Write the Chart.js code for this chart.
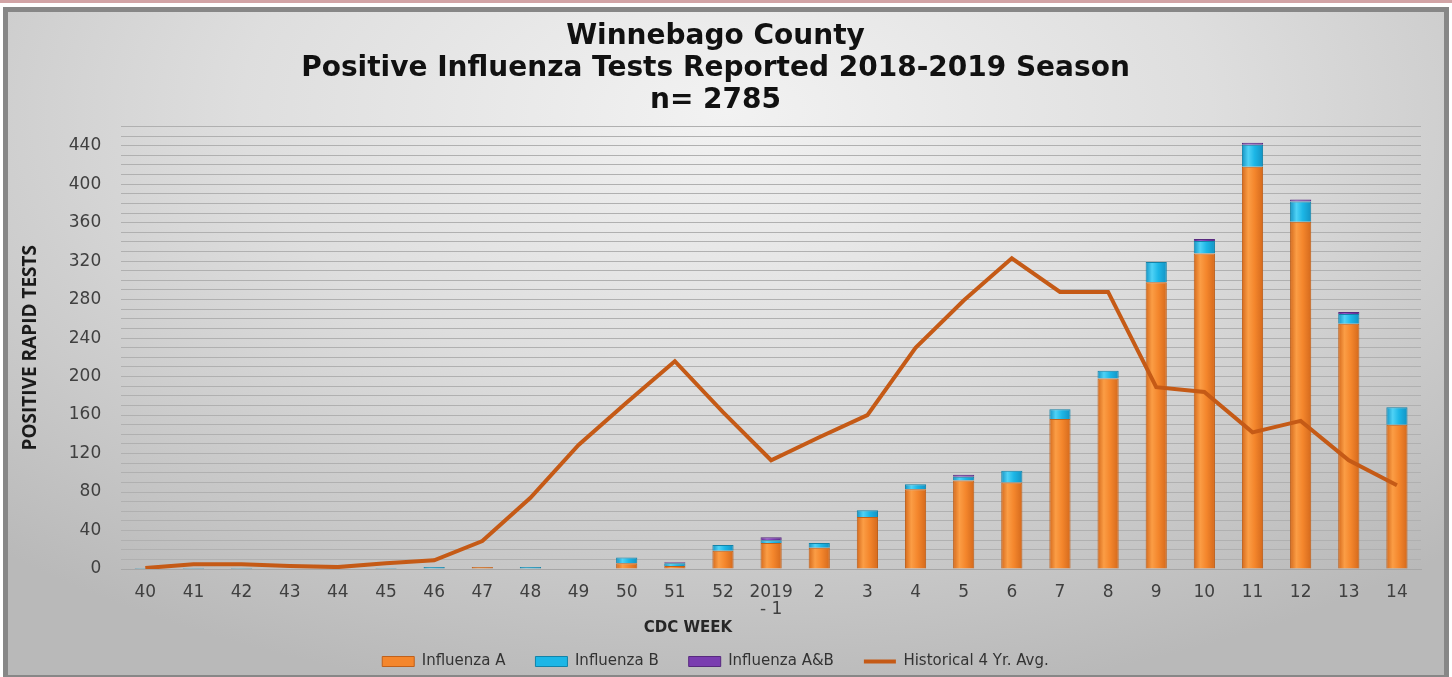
<!DOCTYPE html>
<html>
<head>
<meta charset="utf-8">
<script src="https://cdn.jsdelivr.net/npm/chart.js@4.4.1/dist/chart.umd.min.js"></script>
<style>
  html, body { margin: 0; padding: 0; background: #ffffff; }
  .topline { position: absolute; left: 0; top: 0; width: 1452px; height: 3px; background: #d2a4a6; }
  .frame {
    position: absolute; left: 3px; top: 7px; width: 1436px; height: 663px;
    border: 5px solid #878787; border-bottom-width: 2px;
    background: radial-gradient(ellipse 75% 90% at 50% 15%, #f2f2f2 0%, #dedede 45%, #b9b9b9 100%);
  }
  canvas { display: block; }
</style>
</head>
<body>
<div class="topline"></div>
<div class="frame">
  <canvas id="fluChart" width="1436" height="663"></canvas>
</div>
<script>
const weeks = ['40', '41', '42', '43', '44', '45', '46', '47', '48', '49', '50', '51', '52',
    ['2019', '- 1'], '2', '3', '4', '5', '6', '7', '8', '9', '10', '11', '12', '13', '14'];

const fluA = [0, 0, 0, 0, 0, 0, 0, 2, 0, 0, 6, 3, 19,
    27, 22, 54, 83, 92, 90, 156, 198, 298, 328, 418, 361, 255, 150];
const fluB = [1, 1, 1, 0, 0, 1, 2, 0, 2, 0, 6, 3, 6,
    3, 5, 7, 5, 4, 12, 10, 8, 21, 13, 23, 21, 10, 18];
const fluAB = [0, 0, 0, 0, 0, 0, 0, 0, 0, 0, 0, 1, 0,
    3, 0, 0, 0, 2, 0, 0, 0, 0, 2, 2, 2, 2, 0];
const historical = [1, 5, 5, 3, 2, 6, 9, 29, 74, 129, 173, 216, 163,
    113, 137, 160, 230, 279, 323, 288, 288, 189, 184, 142, 154, 113, 87];

const yMax = 460;
const yStep = 10;
const yLabelEvery = 40;
const barPct = 0.44;

// cylinder-ish shading across each bar, like the Excel bevel
function shaded(edge, mid, light) {
    return (c) => {
        const chart = c.chart;
        const x = chart.scales.x;
        if (!chart.chartArea || !x || c.dataIndex === undefined) return mid;
        const cx = x.getPixelForValue(c.dataIndex);
        const half = (x.width / weeks.length) * barPct / 2;
        const g = chart.ctx.createLinearGradient(cx - half, 0, cx + half, 0);
        g.addColorStop(0, edge);
        g.addColorStop(0.3, light);
        g.addColorStop(0.6, mid);
        g.addColorStop(1, edge);
        return g;
    };
}

// x axis title sits left of centre in the original, so it is drawn by hand
const xTitlePlugin = {
    id: 'xTitle',
    afterDraw(chart) {
        const x = chart.scales.x;
        const ctx = chart.ctx;
        ctx.save();
        ctx.font = 'bold 15px "DejaVu Sans"';
        ctx.fillStyle = '#262626';
        ctx.textAlign = 'center';
        ctx.textBaseline = 'middle';
        ctx.fillText('CDC WEEK', chart.width * 0.4735, x.top + 59);
        ctx.restore();
    }
};

const ctx = document.getElementById('fluChart').getContext('2d');

new Chart(ctx, {
    data: {
        labels: weeks,
        datasets: [
            {
                type: 'bar',
                label: 'Influenza A',
                data: fluA,
                backgroundColor: shaded('#d4691c', '#f4862c', '#fb9d45'),
                borderColor: '#c0601a',
                borderWidth: 1,
                order: 1
            },
            {
                type: 'bar',
                label: 'Influenza B',
                data: fluB,
                backgroundColor: shaded('#1393c4', '#1cb6e6', '#4fd2f6'),
                borderColor: '#1283a8',
                borderWidth: 1,
                order: 1
            },
            {
                type: 'bar',
                label: 'Influenza A&B',
                data: fluAB,
                backgroundColor: shaded('#5e2a8c', '#7a3db0', '#9558c8'),
                borderColor: '#58297f',
                borderWidth: 1,
                order: 1
            },
            {
                type: 'line',
                label: 'Historical 4 Yr. Avg.',
                data: historical,
                borderColor: '#c55a16',
                backgroundColor: '#c55a16',
                borderWidth: 4,
                pointRadius: 0,
                tension: 0,
                stack: 'hist',
                order: 0
            }
        ]
    },
    options: {
        responsive: false,
        animation: false,
        layout: { padding: { left: 2, right: 23, top: 0, bottom: -4 } },
        datasets: {
            bar: { barPercentage: barPct, categoryPercentage: 1 }
        },
        plugins: {
            title: {
                display: true,
                text: ['Winnebago County', 'Positive Influenza Tests Reported 2018-2019 Season', 'n= 2785'],
                color: '#111111',
                font: { family: '"DejaVu Sans"', size: 28, weight: 'bold', lineHeight: 1.16 },
                padding: { top: 8, bottom: 9 }
            },
            legend: {
                position: 'bottom',
                labels: {
                    color: '#333333',
                    font: { family: '"DejaVu Sans"', size: 15, lineHeight: 0.8 },
                    usePointStyle: true,
                    pointStyleWidth: 32,
                    boxHeight: 10,
                    padding: 30,
                    generateLabels(chart) {
                        const items = Chart.defaults.plugins.legend.labels.generateLabels(chart);
                        const fills = ['#f4862c', '#1cb6e6', '#7a3db0'];
                        items.forEach(it => {
                            const isLine = chart.data.datasets[it.datasetIndex].type === 'line';
                            it.pointStyle = isLine ? 'line' : 'rect';
                            if (!isLine) it.fillStyle = fills[it.datasetIndex];
                        });
                        return items;
                    },
                    sort: (a, b) => a.datasetIndex - b.datasetIndex
                }
            },
            tooltip: { enabled: false }
        },
        scales: {
            x: {
                stacked: true,
                grid: { display: false, drawTicks: false },
                border: { color: '#a6a6a6' },
                ticks: {
                    color: '#404040',
                    font: { family: '"DejaVu Sans"', size: 17, lineHeight: 1 },
                    padding: 15,
                    maxRotation: 0,
                    autoSkip: false
                },
                afterFit(scale) { scale.height = 55; }
            },
            y: {
                stacked: true,
                min: 0,
                max: yMax,
                border: { display: false },
                grid: { color: '#b0b0b0', lineWidth: 1, drawTicks: false },
                ticks: {
                    stepSize: yStep,
                    autoSkip: false,
                    color: '#404040',
                    font: { family: '"DejaVu Sans"', size: 17 },
                    padding: 20,
                    callback: v => (v % yLabelEvery === 0 ? v : '')
                },
                title: {
                    display: true,
                    text: 'POSITIVE RAPID TESTS',
                    color: '#1a1a1a',
                    font: { family: '"Open Sans"', size: 19, weight: 'bold', lineHeight: 1.2 },
                    padding: { top: 9, bottom: 7 }
                }
            }
        }
    },
    plugins: [xTitlePlugin]
});
</script>
</body>
</html>
